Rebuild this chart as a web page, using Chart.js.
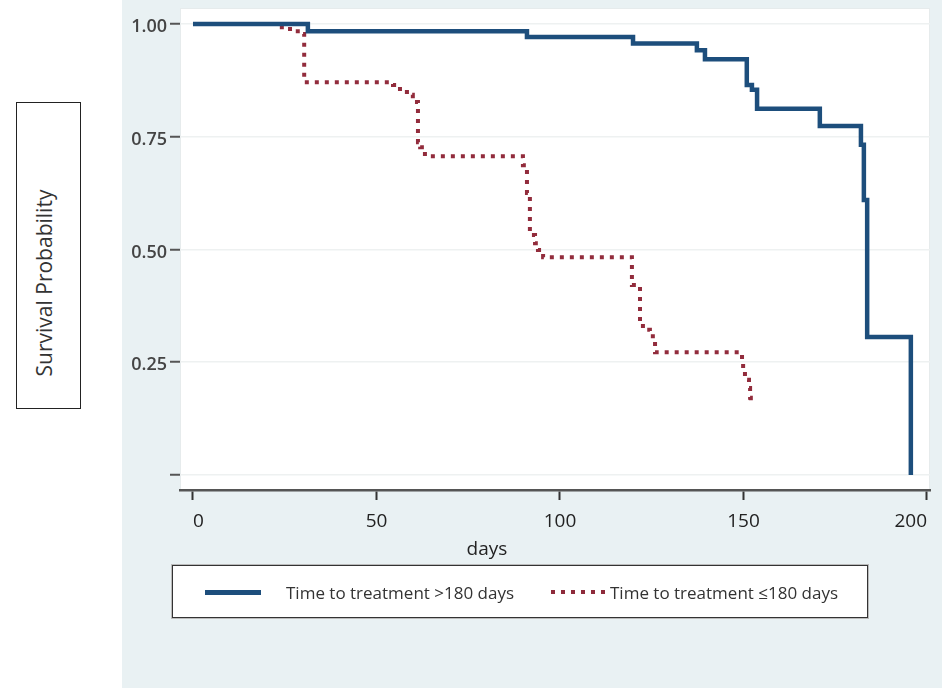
<!DOCTYPE html>
<html>
<head>
<meta charset="utf-8">
<script src="https://cdn.jsdelivr.net/npm/chart.js@4"></script>
<style>
  body { margin: 0; background: #fff; font-family: "Open Sans", sans-serif; }
  #wrap { position: relative; width: 942px; height: 688px; overflow: hidden; }
  #panel { position: absolute; left: 122px; top: 0; width: 820px; height: 688px; background: #e9f1f3; }
  #chart { position: absolute; left: 0; top: 0; }
  #ylab { position: absolute; left: 16px; top: 102px; width: 63px; height: 305px; border: 1px solid #222; background: #fff; }
  #ylab span { position: absolute; left: 27px; top: 180px; transform: translate(-50%, -50%) rotate(-90deg); white-space: nowrap; font-size: 21px; color: #333; }
  #xlab { position: absolute; left: 487px; top: 548px; transform: translate(-50%, -50%); font-size: 19px; color: #222; }
  #legend { position: absolute; left: 172px; top: 565px; width: 694px; height: 51px; border: 1.5px solid #333; background: #fff; box-shadow: 0 0 0 1px #bbb; }
  .item { position: absolute; top: 50%; transform: translateY(-50%); font-size: 17px; color: #333; white-space: nowrap; }
  .swatch { position: absolute; top: 50%; }
</style>
</head>
<body>
<div id="wrap">
  <div id="panel"></div>
  <canvas id="chart" width="942" height="688"></canvas>
  <div id="ylab"><span>Survival Probability</span></div>
  <div id="xlab">days</div>
  <div id="legend">
    <div class="swatch" style="left:32px;width:56px;height:5px;margin-top:-2px;background:#1d4e7c"></div>
    <div class="item" id="lab1" style="left:113px"></div>
    <div class="swatch" style="left:378px;width:58px;height:4px;margin-top:-2px;background:repeating-linear-gradient(90deg,#8e2a3a 0 4px,transparent 4px 10px)"></div>
    <div class="item" id="lab2" style="left:437px"></div>
  </div>
</div>
<script>
const seriesNames = ["Time to treatment >180 days", "Time to treatment \u2264180 days"];

// Time to treatment >180 days
const daysLong = [0, 31.3, 91.0, 119.9, 137.3, 139.5, 150.9, 152.3, 153.7, 170.8, 182.0, 182.8, 183.7, 195.6];
const survLong = [1.0, 0.984, 0.971, 0.957, 0.942, 0.922, 0.865, 0.854, 0.812, 0.774, 0.732, 0.61, 0.306, 0.0];

// Time to treatment <=180 days
const daysShort = [0, 22.9, 25.6, 27.8, 29.7, 30.3, 54.5, 56.4, 58.3, 59.9, 61.3, 61.9, 63.2,
  89.9, 91.0, 91.8, 93.2, 94.0, 95.4, 119.6, 121.8, 122.6, 124.5, 125.3, 125.9,
  149.6, 149.9, 150.4, 151.5, 151.8, 152.0];
const survShort = [1.0, 0.993, 0.989, 0.984, 0.978, 0.871, 0.865, 0.849, 0.843, 0.827, 0.738, 0.727, 0.707,
  0.687, 0.625, 0.532, 0.514, 0.499, 0.483, 0.421, 0.339, 0.322, 0.315, 0.299, 0.272,
  0.251, 0.233, 0.211, 0.193, 0.171, 0.155];

const xTicks = [0, 50, 100, 150, 200];
const yTicks = [0, 0.25, 0.5, 0.75, 1.0];
const yTickLabels = ["", "0.25", "0.50", "0.75", "1.00"];

document.getElementById('lab1').textContent = seriesNames[0];
document.getElementById('lab2').textContent = seriesNames[1];

const toPoints = (xs, ys) => xs.map((x, i) => ({x: x, y: ys[i]}));

const plotBg = {
  id: 'plotBg',
  beforeDraw(chart) {
    const {ctx, chartArea: a} = chart;
    ctx.save();
    ctx.fillStyle = '#ffffff';
    ctx.fillRect(a.left, a.top, a.right - a.left, a.bottom - a.top);
    ctx.strokeStyle = '#e6ebec';
    ctx.lineWidth = 1;
    ctx.strokeRect(a.left + 0.5, a.top + 0.5, a.right - a.left - 1, a.bottom - a.top);
    ctx.restore();
  }
};

new Chart(document.getElementById('chart'), {
  type: 'line',
  data: {
    datasets: [
      {
        label: seriesNames[0],
        data: toPoints(daysLong, survLong),
        stepped: true,
        borderColor: '#1d4e7c',
        borderWidth: 4.5,
        pointRadius: 0,
        fill: false
      },
      {
        label: seriesNames[1],
        data: toPoints(daysShort, survShort),
        stepped: true,
        borderColor: '#922c3c',
        borderWidth: 4,
        borderDash: [4, 6],
        borderCapStyle: 'butt',
        pointRadius: 0,
        fill: false
      }
    ]
  },
  options: {
    responsive: false,
    animation: false,
    layout: { padding: { top: 8, right: 12, left: 0, bottom: 0 } },
    plugins: { legend: { display: false }, tooltip: { enabled: false } },
    scales: {
      x: {
        type: 'linear',
        min: -3.54,
        max: 200.82,
        afterFit(scale) { scale.height = 198; scale.paddingLeft = 0; scale.paddingRight = 0; },
        afterBuildTicks(scale) { scale.ticks = xTicks.map(v => ({value: v})); },
        grid: { drawOnChartArea: false, tickLength: 10, tickColor: '#333', tickWidth: 2 },
        border: { color: '#555', width: 2.5 },
        ticks: { color: '#222', padding: 10, align: 'inner', font: { family: 'Open Sans', size: 19 } }
      },
      y: {
        min: -0.0333,
        max: 1.0355,
        afterFit(scale) { scale.width = 180; scale.paddingTop = 0; scale.paddingBottom = 0; },
        afterBuildTicks(scale) { scale.ticks = yTicks.map(v => ({value: v})); },
        grid: { color: '#eef1f1', lineWidth: 1.5, tickLength: 10, tickColor: '#555', tickWidth: 2 },
        border: { display: false },
        ticks: {
          color: '#444',
          padding: 3,
          labelOffset: 3,
          font: { family: 'Open Sans', size: 18, weight: '600' },
          callback: (v) => yTickLabels[yTicks.indexOf(v)]
        }
      }
    }
  },
  plugins: [plotBg]
});
</script>
</body>
</html>
